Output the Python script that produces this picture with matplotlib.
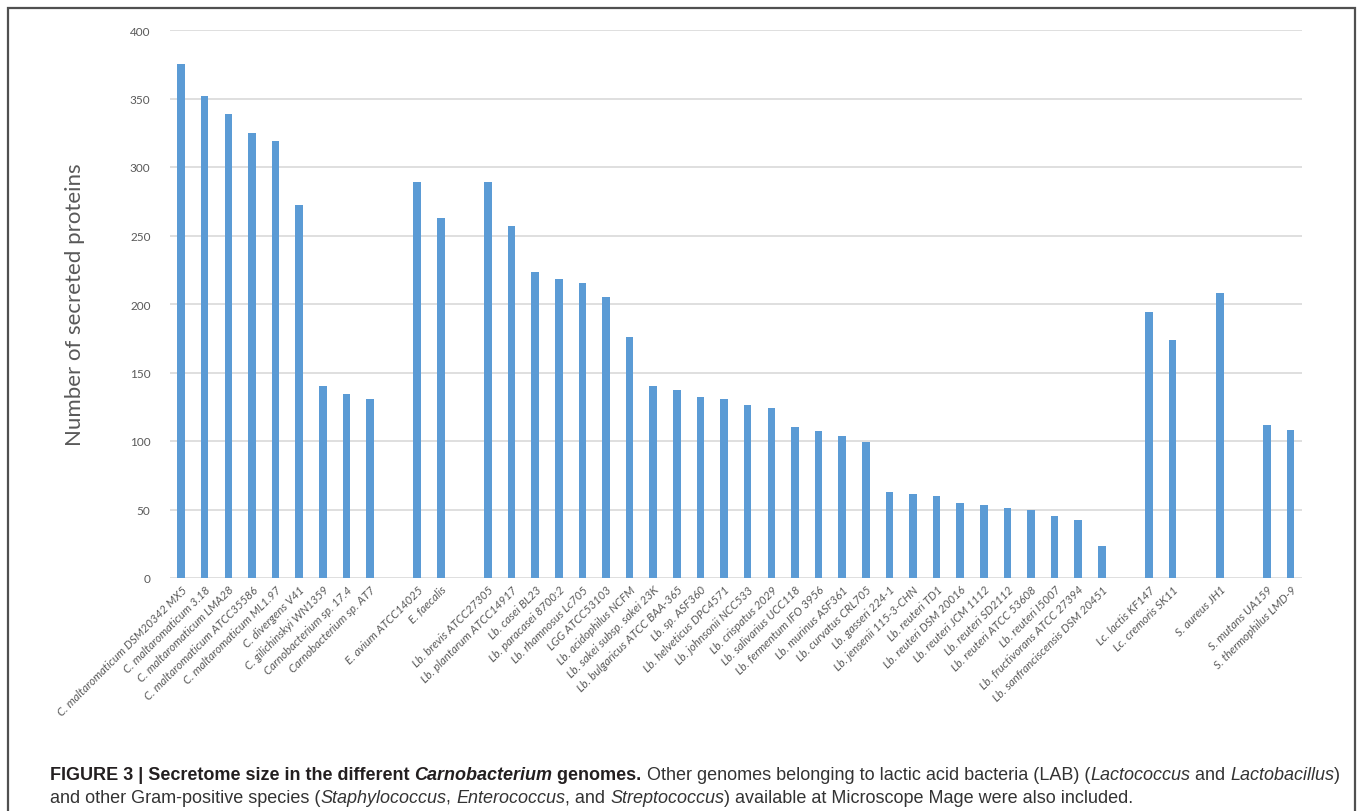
import matplotlib
matplotlib.use("Agg")
import matplotlib.pyplot as plt
from matplotlib.patches import Rectangle
import numpy as np

# secreted protein counts per genome
carno_labels = ["C. maltaromaticum DSM20342 MX5", "C. maltaromaticum 3.18", "C. maltaromaticum LMA28",
                "C. maltaromaticum ATCC35586", "C. maltaromaticum ML1.97", "C. divergens V41",
                "C. gilichinskyi WN1359", "Carnobacterium sp. 17.4", "Carnobacterium sp. AT7"]
carno_values = [375, 352, 339, 325, 319, 272, 140, 134, 131]

entero_labels = ["E. avium ATCC14025", "E. faecalis"]
entero_values = [289, 263]

lacto_labels = ["Lb. brevis ATCC27305", "Lb. plantarum ATCC14917", "Lb. casei BL23", "Lb. paracasei 8700:2",
                "Lb. rhamnosus Lc705", "LGG ATCC53103", "Lb. acidophilus NCFM", "Lb. sakei subsp. sakei 23K",
                "Lb. bulgaricus ATCC BAA-365", "Lb. sp. ASF360", "Lb. helveticus DPC4571",
                "Lb. johnsonii NCC533", "Lb. crispatus 2029", "Lb. salivarius UCC118",
                "Lb. fermentum IFO 3956", "Lb. murinus ASF361", "Lb. curvatus CRL705", "Lb. gasseri 224-1",
                "Lb. jensenii 115-3-CHN", "Lb. reuteri TD1", "Lb. reuteri DSM 20016", "Lb. reuteri JCM 1112",
                "Lb. reuteri SD2112", "Lb. reuteri ATCC 53608", "Lb. reuteri I5007",
                "Lb. fructivorans ATCC 27394", "Lb. sanfranciscensis DSM 20451"]
lacto_values = [289, 257, 223, 218, 215, 205, 176, 140, 137, 132, 131, 126, 124, 110, 107, 104, 99,
                63, 61, 60, 55, 53, 51, 50, 45, 42, 23]

lacto_c_labels = ["Lc. lactis KF147", "Lc. cremoris SK11"]
lacto_c_values = [194, 174]

staph_labels = ["S. aureus JH1"]
staph_values = [208]

strep_labels = ["S. mutans UA159", "S. thermophilus LMD-9"]
strep_values = [112, 108]

groups = [(carno_labels, carno_values), (entero_labels, entero_values), (lacto_labels, lacto_values),
          (lacto_c_labels, lacto_c_values), (staph_labels, staph_values), (strep_labels, strep_values)]

# one empty slot between groups, like the original sheet
labels, values, pos = [], [], []
slot = 0
for lab, val in groups:
    for l, v in zip(lab, val):
        labels.append(l)
        values.append(v)
        pos.append(slot)
        slot += 1
    slot += 1

W, H = 1358, 812
fig = plt.figure(figsize=(W / 100, H / 100), dpi=100)
ax = fig.add_axes([170 / W, 1 - 579 / H, (1302 - 170) / W, (579 - 31) / H])

ax.bar(pos, values, width=0.32, color="#5B9BD5", zorder=3)
ax.set_ylim(0, 400)
ax.set_xlim(-0.47, pos[-1] + 0.48)
ax.set_yticks(np.arange(0, 401, 50))
ax.yaxis.grid(True, color="#D9D9D9", linewidth=1.2, zorder=0)
for s in ax.spines.values():
    s.set_visible(False)
ax.tick_params(axis="both", length=0, colors="#595959")
ax.tick_params(axis="y", labelsize=8.5, pad=14)
for t in ax.get_yticklabels():
    t.set_family(["Lato", "DejaVu Sans"])

ax.set_xticks(pos)
ax.set_xticklabels(labels, rotation=45, ha="right", rotation_mode="anchor", fontsize=8.3,
                   style="italic", family=["Lato", "DejaVu Sans"], color="#595959")
ax.tick_params(axis="x", pad=4)

fig.text(75 / W, 1 - 305 / H, "Number of secreted proteins", rotation=90, ha="center", va="center",
         fontsize=16, color="#595959", family=["Lato", "DejaVu Sans"])

# outer frame of the figure panel
fig.add_artist(Rectangle((8 / W, -0.02), (1355 - 8) / W, 1.02 - 9 / H, transform=fig.transFigure,
                         fill=False, edgecolor="#505050", linewidth=1.6))

# caption with mixed bold / italic runs
cap_font = ["Liberation Sans", "DejaVu Sans"]
line1 = [("FIGURE 3 | Secretome size in the different ", "bold", "normal"),
         ("Carnobacterium", "bold", "italic"),
         (" genomes.", "bold", "normal"),
         (" Other genomes belonging to lactic acid bacteria (LAB) (", "normal", "normal"),
         ("Lactococcus", "normal", "italic"),
         (" and ", "normal", "normal"),
         ("Lactobacillus", "normal", "italic"),
         (")", "normal", "normal")]
line2 = [("and other Gram-positive species (", "normal", "normal"),
         ("Staphylococcus", "normal", "italic"),
         (", ", "normal", "normal"),
         ("Enterococcus", "normal", "italic"),
         (", and ", "normal", "normal"),
         ("Streptococcus", "normal", "italic"),
         (") available at Microscope Mage were also included.", "normal", "normal")]

renderer = fig.canvas.get_renderer()


def draw_runs(runs, ybase, size):
    x = 50
    items = []
    for txt, weight, style in runs:
        t = fig.text(x / W, 1 - ybase / H, txt, ha="left", va="baseline", fontsize=size,
                     weight=weight, style=style, family=cap_font,
                     color="#231F20" if weight == "bold" else "#333333")
        x += t.get_window_extent(renderer=renderer).width
        items.append(t)
    return x, items


# fit the first caption line to the panel width
end, tmp = draw_runs(line1, 780, 12)
for t in tmp:
    t.remove()
cap_size = 12 * (1340 - 50) / (end - 50)
draw_runs(line1, 780, cap_size)
draw_runs(line2, 803, cap_size)

fig.savefig("out.png", dpi=100)
